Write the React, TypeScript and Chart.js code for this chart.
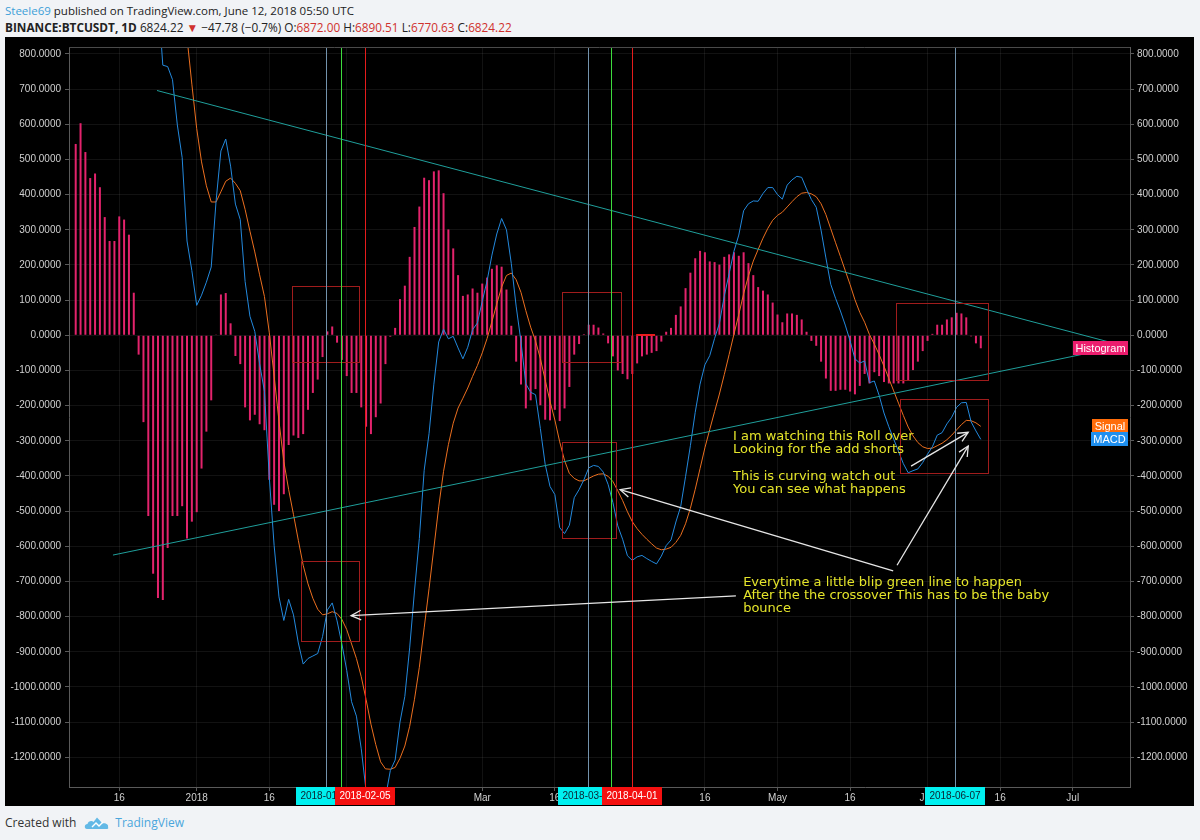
import React, { useEffect, useRef } from "react";
import { Chart, registerables } from "chart.js";

Chart.register(...registerables);

// Daily bars, index 0 = 2017-12-07 ... index 187 = 2018-06-12
const histogram: number[] = [
  544, 603, 521, 447, 460, 421, 336, 268, 268, 338,
  329, 286, 121, -55, -247, -514, -678, -747, -753, -605,
  -514, -514, -486, -578, -530, -503, -379, -274, -185, 2,
  116, 120, 34, -59, -82, -205, -242, -226, -253, -270,
  -411, -482, -500, -452, -312, -285, -292, -281, -212, -164,
  -126, -62, 11, 25, -21, -70, -116, -164, -164, -205,
  -260, -281, -233, -194, -82, -4, 21, 103, 141, 223,
  308, 366, 448, 441, 466, 469, 404, 301, 247, 171,
  112, 116, 133, 121, 147, 164, 189, 199, 195, 130,
  27, -75, -140, -208, -185, -153, -199, -240, -242, -212,
  -244, -208, -147, -55, -25, 3, 30, 30, 22, 5,
  -23, -60, -100, -110, -125, -110, -80, -60, -55, -50,
  -45, -18, 10, 21, 58, 82, 134, 178, 219, 240,
  236, 210, 208, 201, 223, 230, 236, 226, 236, 205,
  171, 137, 127, 116, 93, 59, 37, 62, 62, 58,
  45, 10, -16, -30, -75, -123, -158, -158, -155, -155,
  -160, -168, -144, -110, -137, -105, -116, -133, -137, -137,
  -137, -137, -130, -99, -75, -45, -16, 4, 30, 30,
  45, 51, 64, 62, 51, -3, -23, -37,
];

const signalLine: number[] = [
  1169, 1320, 1451, 1562, 1677, 1783, 1867, 1934, 2001, 2085,
  2167, 2239, 2269, 2255, 2194, 2065, 1896, 1709, 1521, 1369,
  1241, 1112, 991, 846, 714, 588, 493, 425, 379, 379,
  408, 438, 447, 432, 411, 358, 296, 237, 172, 110,
  7, -116, -244, -359, -439, -510, -583, -654, -707, -748,
  -779, -795, -792, -786, -791, -808, -837, -878, -919, -971,
  -1036, -1106, -1164, -1213, -1233, -1234, -1229, -1203, -1168, -1112,
  -1035, -944, -832, -721, -605, -488, -387, -311, -250, -207,
  -179, -150, -117, -86, -50, -9, 39, 89, 137, 170,
  177, 158, 122, 70, 23, -16, -66, -127, -188, -241,
  -303, -356, -393, -407, -414, -414, -407, -400, -395, -394,
  -401, -416, -442, -470, -502, -530, -550, -566, -580, -593,
  -605, -610, -608, -603, -589, -569, -536, -492, -438, -379,
  -320, -268, -217, -167, -112, -55, 3, 59, 118, 169,
  211, 244, 276, 304, 327, 341, 350, 365, 380, 394,
  404, 406, 402, 394, 374, 343, 303, 263, 224, 184,
  144, 101, 65, 37, 2, -25, -55, -88, -123, -158,
  -193, -228, -261, -286, -305, -317, -322, -321, -314, -307,
  -297, -284, -269, -254, -242, -243, -249, -259,
];

const macdLine: number[] = [
  1713, 1923, 1972, 2009, 2137, 2204, 2203, 2202, 2269, 2423,
  2496, 2525, 2390, 2200, 1947, 1551, 1218, 962, 768, 764,
  727, 598, 505, 268, 184, 85, 114, 151, 194, 381,
  524, 558, 481, 373, 329, 153, 54, 11, -81, -160,
  -404, -598, -744, -811, -751, -795, -875, -935, -919, -912,
  -905, -857, -781, -761, -812, -878, -953, -1042, -1083, -1176,
  -1296, -1387, -1397, -1407, -1315, -1238, -1208, -1100, -1027, -889,
  -727, -578, -384, -280, -139, -19, 17, -10, -3, -36,
  -67, -34, 16, 35, 97, 155, 228, 288, 332, 300,
  204, 83, -18, -138, -162, -169, -265, -367, -430, -453,
  -547, -564, -540, -462, -439, -411, -377, -370, -373, -389,
  -424, -476, -542, -580, -627, -640, -630, -626, -635, -643,
  -650, -628, -598, -582, -531, -487, -402, -314, -219, -139,
  -84, -58, -9, 34, 111, 175, 239, 285, 354, 374,
  382, 381, 403, 420, 420, 400, 387, 427, 442, 452,
  449, 416, 386, 364, 299, 220, 145, 105, 69, 29,
  -16, -67, -79, -73, -135, -130, -171, -221, -260, -295,
  -330, -365, -391, -385, -380, -362, -338, -317, -284, -277,
  -252, -233, -205, -192, -191, -246, -272, -296,
];

const yTickValues = [
  800, 700, 600, 500, 400, 300, 200, 100, 0, -100, -200, -300, -400,
  -500, -600, -700, -800, -900, -1000, -1100, -1200,
];
const xTickIndex = [9, 25, 40, 56, 84, 99, 115, 130, 145, 160, 176, 191, 206];
const xTickLabels = ["16", "2018", "16", "Feb", "Mar", "16", "Apr", "16", "May", "16", "Jun", "16", "Jul"];

// drawings (in bar-index / value coordinates)
const trendLines = [
  [16.8, 696, 216.5, -30],
  [7.7, -625, 216.5, -30],
];
const boxes = [
  [44.7, 141, 58.5, -76],
  [46.5, -642, 58.5, -870],
  [100.5, 124, 112.7, -77],
  [100.5, -303, 111.6, -576],
  [169.5, 92, 188.5, -127],
  [170.4, -181, 188.5, -393],
];
const greyMarks = [
  { i: 51.7, label: "2018-01-28" },
  { i: 105.8, label: "2018-03-23" },
  { i: 181.7, label: "2018-06-07" },
];
const greenMarks = [54.8, 110.6];
const redMarks = [
  { i: 59.8, label: "2018-02-05" },
  { i: 114.9, label: "2018-04-01" },
];
const zeroSegment = [115.8, 119.7];
const arrows = [
  [136.4, -741, 56.9, -797],
  [168.9, -670, 112.5, -439],
  [169.7, -654, 184.4, -315],
  [172.6, -372, 184.4, -276],
];
const notes = [
  { i: 135.8, v: -288, lines: ["I am watching this Roll over", "Looking for the add shorts", "", "This is curving watch out", "You can see what happens"] },
  { i: 137.9, v: -702, lines: ["Everytime a little blip green line to happen", "After the the crossover This has to be the baby", "bounce"] },
];

const FONT = '"Liberation Sans", Arial, Helvetica, sans-serif';
const Y_MIN = -1284.5;
const Y_MAX = 819.7;
const X_MIN = -1.384;
const X_MAX = 217.83;

function drawArrow(ctx: any, x1: number, y1: number, x2: number, y2: number) {
  ctx.beginPath();
  ctx.moveTo(x1, y1);
  ctx.lineTo(x2, y2);
  ctx.stroke();
  const ang = Math.atan2(y2 - y1, x2 - x1);
  const L = 11;
  const sp = Math.PI / 7;
  ctx.beginPath();
  ctx.moveTo(x2 - L * Math.cos(ang - sp), y2 - L * Math.sin(ang - sp));
  ctx.lineTo(x2, y2);
  ctx.lineTo(x2 - L * Math.cos(ang + sp), y2 - L * Math.sin(ang + sp));
  ctx.stroke();
}

const drawingsPlugin = {
  id: "drawings",
  afterDatasetsDraw(chart: any) {
    const { ctx, chartArea: a } = chart;
    const xs = chart.scales.x;
    const ys = chart.scales.y;
    const X = (i: number) => xs.getPixelForValue(i);
    const Y = (v: number) => ys.getPixelForValue(v);
    const crisp = (p: number) => Math.round(p) + 0.5;
    ctx.save();
    ctx.beginPath();
    ctx.rect(a.left, a.top, a.right - a.left, a.bottom - a.top);
    ctx.clip();

    ctx.lineWidth = 1;
    ctx.strokeStyle = "#1f9f9b";
    for (const [i1, v1, i2, v2] of trendLines) {
      ctx.beginPath();
      ctx.moveTo(X(i1), Y(v1));
      ctx.lineTo(X(i2), Y(v2));
      ctx.stroke();
    }

    ctx.strokeStyle = "#a01c1c";
    for (const [i1, v1, i2, v2] of boxes) {
      const x1 = crisp(X(i1));
      const x2 = crisp(X(i2));
      const y1 = crisp(Y(v1));
      const y2 = crisp(Y(v2));
      ctx.strokeRect(x1, y1, x2 - x1, y2 - y1);
    }

    ctx.strokeStyle = "#e81c1c";
    ctx.lineWidth = 2;
    ctx.beginPath();
    ctx.moveTo(X(zeroSegment[0]), Math.round(Y(0)));
    ctx.lineTo(X(zeroSegment[1]), Math.round(Y(0)));
    ctx.stroke();

    const vline = (i: number, color: string) => {
      ctx.strokeStyle = color;
      ctx.lineWidth = 1;
      const x = crisp(X(i));
      ctx.beginPath();
      ctx.moveTo(x, a.top);
      ctx.lineTo(x, a.bottom);
      ctx.stroke();
    };
    greyMarks.forEach((m) => vline(m.i, "#7393ad"));
    greenMarks.forEach((i) => vline(i, "#3ddc3d"));
    redMarks.forEach((m) => vline(m.i, "#e51c1c"));

    ctx.strokeStyle = "#e6e6e6";
    ctx.lineWidth = 1.3;
    for (const [i1, v1, i2, v2] of arrows) {
      drawArrow(ctx, X(i1), Y(v1), X(i2), Y(v2));
    }

    ctx.fillStyle = "#e4e42a";
    ctx.font = '13px "DejaVu Sans", Verdana, sans-serif';
    ctx.textAlign = "left";
    ctx.textBaseline = "middle";
    for (const n of notes) {
      n.lines.forEach((line, k) => {
        if (line) ctx.fillText(line, X(n.i), Y(n.v) + k * 13.2);
      });
    }
    ctx.restore();
  },
  afterDraw(chart: any) {
    const { ctx, chartArea: a } = chart;
    const xs = chart.scales.x;
    const ys = chart.scales.y;
    const X = (i: number) => xs.getPixelForValue(i);
    const Y = (v: number) => ys.getPixelForValue(v);
    ctx.save();
    // top frame line
    ctx.strokeStyle = "#4a4a4a";
    ctx.lineWidth = 1;
    ctx.beginPath();
    ctx.moveTo(a.left, a.top + 0.5);
    ctx.lineTo(a.right, a.top + 0.5);
    ctx.stroke();

    // date badges on the time axis
    ctx.font = "10px " + FONT;
    ctx.textAlign = "center";
    ctx.textBaseline = "middle";
    const badge = (i: number, label: string, bg: string, fg: string) => {
      const w = Math.round(ctx.measureText(label).width + 9);
      const x = Math.round(X(i) - w / 2);
      ctx.fillStyle = bg;
      ctx.fillRect(x, a.bottom, w, 18);
      ctx.fillStyle = fg;
      ctx.fillText(label, x + w / 2, a.bottom + 9.5);
    };
    greyMarks.forEach((m) => badge(m.i, m.label, "#00f0f0", "#0c2230"));
    redMarks.forEach((m) => badge(m.i, m.label, "#f41010", "#ffffff"));

    // series name badges at the right edge
    ctx.font = "11px " + FONT;
    const nameBadge = (v: number, label: string, bg: string) => {
      const w = Math.round(ctx.measureText(label).width + 5);
      const y = Math.round(Y(v) - 7);
      const x = Math.round(a.right - 2 - w);
      ctx.fillStyle = bg;
      ctx.fillRect(x, y, w, 14);
      ctx.fillStyle = "#ffffff";
      ctx.fillText(label, x + w / 2, y + 7.5);
    };
    nameBadge(histogram[histogram.length - 1], "Histogram", "#ec1d6e");
    nameBadge(signalLine[signalLine.length - 1], "Signal", "#ff6d0a");
    nameBadge(macdLine[macdLine.length - 1], "MACD", "#1e8fef");
    ctx.restore();
  },
};

export default function App() {
  const canvasRef = useRef<HTMLCanvasElement | null>(null);

  useEffect(() => {
    const canvas = canvasRef.current;
    if (!canvas) return;
    const toPoints = (arr: number[]) => arr.map((v, k) => ({ x: k, y: v }));
    const gridColor = "rgba(255,255,255,0.07)";
    const tickColor = "#5a5a5a";
    const axisColor = "#5a5a5a";
    const labelColor = "#d0d0d0";
    const yTicksBuild = (s: any) => {
      s.ticks = yTickValues.map((v) => ({ value: v }));
    };
    const chart = new Chart(canvas, {
      type: "line",
      data: {
        datasets: [
          {
            type: "bar",
            label: "Histogram",
            data: toPoints(histogram),
            backgroundColor: "#e3236c",
            barThickness: 2,
            inflateAmount: 0,
            borderWidth: 0,
            order: 3,
          } as any,
          {
            type: "line",
            label: "Signal",
            data: toPoints(signalLine),
            borderColor: "#ec6f1f",
            borderWidth: 1,
            pointRadius: 0,
            tension: 0,
            fill: false,
            order: 2,
          },
          {
            type: "line",
            label: "MACD",
            data: toPoints(macdLine),
            borderColor: "#2389dd",
            borderWidth: 1,
            pointRadius: 0,
            tension: 0,
            fill: false,
            order: 1,
          },
        ],
      },
      options: {
        animation: false,
        responsive: false,
        maintainAspectRatio: false,
        events: [],
        layout: { padding: { top: 3, left: 0, right: 0, bottom: 0 } },
        plugins: { legend: { display: false }, tooltip: { enabled: false } },
        scales: {
          x: {
            type: "linear",
            min: X_MIN,
            max: X_MAX,
            offset: false,
            afterBuildTicks: (s: any) => {
              s.ticks = xTickIndex.map((v) => ({ value: v }));
            },
            afterFit: (s: any) => {
              s.height = 19;
            },
            ticks: {
              autoSkip: false,
              maxRotation: 0,
              minRotation: 0,
              padding: 1,
              color: labelColor,
              font: { size: 10, family: FONT },
              callback: (_v: any, idx: number) => xTickLabels[idx],
            },
            grid: { color: gridColor, tickColor, tickLength: 4, offset: false },
            border: { color: axisColor },
          },
          y: {
            type: "linear",
            position: "left",
            min: Y_MIN,
            max: Y_MAX,
            afterBuildTicks: yTicksBuild,
            afterFit: (s: any) => {
              s.width = 64;
            },
            ticks: {
              padding: 4,
              color: labelColor,
              font: { size: 10, family: FONT },
              callback: (v: any) => Number(v).toFixed(4),
            },
            grid: { color: gridColor, tickColor, tickLength: 4 },
            border: { color: axisColor },
          },
          y2: {
            type: "linear",
            position: "right",
            min: Y_MIN,
            max: Y_MAX,
            afterBuildTicks: yTicksBuild,
            afterFit: (s: any) => {
              s.width = 64;
            },
            ticks: {
              padding: 3,
              color: labelColor,
              font: { size: 10, family: FONT },
              callback: (v: any) => Number(v).toFixed(4),
            },
            grid: { drawOnChartArea: false, tickColor, tickLength: 4 },
            border: { color: axisColor },
          },
        },
      },
      plugins: [drawingsPlugin],
    } as any);
    return () => chart.destroy();
  }, []);

  const red = "#d0312d";
  return (
    <div
      style={{
        position: "fixed",
        left: 0,
        top: 0,
        width: 1200,
        height: 840,
        background: "#f1f3f6",
        fontFamily: '"Open Sans", "Noto Sans", sans-serif',
        color: "#222",
        overflow: "hidden",
      }}
    >
      <div style={{ position: "absolute", left: 5, top: 3, fontSize: 11.5, lineHeight: "16px", whiteSpace: "nowrap" }}>
        <span style={{ color: "#3c9fd8" }}>Steele69</span> published on TradingView.com, June 12, 2018 05:50 UTC
      </div>
      <div style={{ position: "absolute", left: 5, top: 19, fontSize: 11.8, lineHeight: "16px", whiteSpace: "nowrap" }}>
        <b>BINANCE:BTCUSDT, 1D</b> 6824.22 <span style={{ color: red }}>▼</span> −47.78 (−0.7%){" "}
        O:<span style={{ color: red }}>6872.00</span> H:<span style={{ color: red }}>6890.51</span>{" "}
        L:<span style={{ color: red }}>6770.63</span> C:<span style={{ color: red }}>6824.22</span>
      </div>
      <div style={{ position: "absolute", left: 5, top: 37, width: 1189, height: 769, background: "#000" }}>
        <canvas ref={canvasRef} width={1189} height={769} style={{ display: "block", width: 1189, height: 769 }} />
      </div>
      <div style={{ position: "absolute", left: 5, top: 814, fontSize: 12, lineHeight: "18px", whiteSpace: "nowrap", display: "flex", alignItems: "center" }}>
        <span style={{ color: "#333" }}>Created with</span>
        <svg width="26" height="14" viewBox="0 0 26 14" style={{ marginLeft: 8, marginRight: 5 }}>
          <path d="M3 13 C0 13 0 8 3.5 8 C4 5 8 4 9.5 6 L13 1.5 L18.5 7.5 C21 6.5 25 8.5 24 11 C25 13 23 13 22 13 Z" fill="#63b9e6" />
          <path d="M8 11 L12 7 L15 10 L19 6" stroke="#ffffff" strokeWidth="1.4" fill="none" />
        </svg>
        <span style={{ color: "#4aa6dc" }}>TradingView</span>
      </div>
    </div>
  );
}
